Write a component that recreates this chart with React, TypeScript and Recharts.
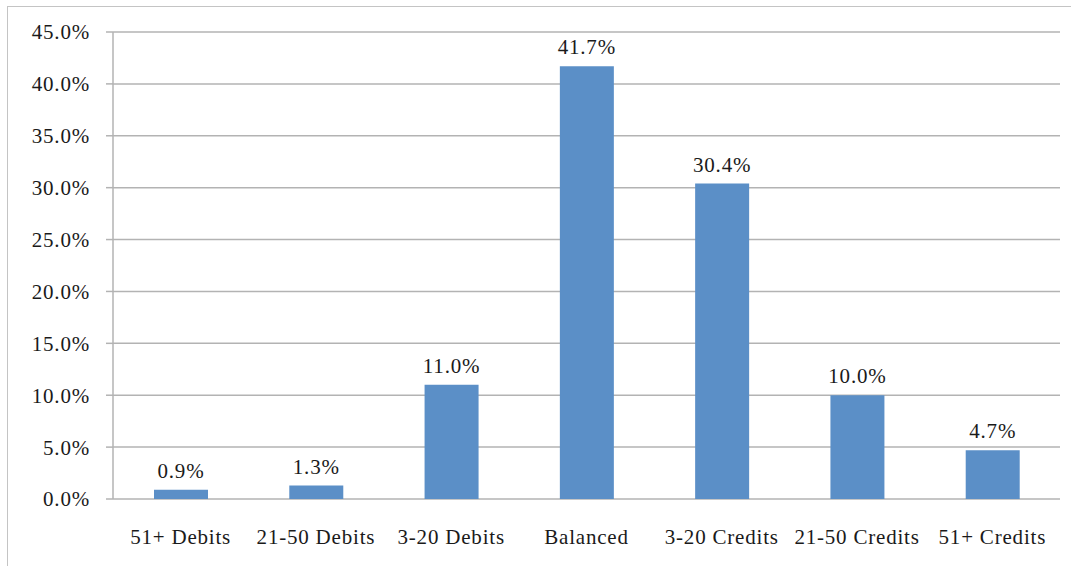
import React from "react";
import { BarChart, Bar, XAxis, YAxis, CartesianGrid, LabelList } from "recharts";

const categories = ["51+ Debits", "21-50 Debits", "3-20 Debits", "Balanced", "3-20 Credits", "21-50 Credits", "51+ Credits"];
const shares = [0.9, 1.3, 11.0, 41.7, 30.4, 10.0, 4.7];
const yTicks = [0, 5, 10, 15, 20, 25, 30, 35, 40, 45];
const boundaryTicks = [0, 1, 2, 3, 4, 5, 6, 7];

const data = categories.map((c, i) => ({ name: c, value: shares[i] }));

const FONT = "'Liberation Serif', 'Times New Roman', serif";
const GRID = "#b3b3b3";
const TEXT = "#1a1a1a";
const textStyle = { fill: TEXT, fontSize: 21, fontFamily: FONT, letterSpacing: 0.8 };

export default function App() {
  return (
    <div style={{ position: "absolute", left: 0, top: 0, width: 1071, height: 566, overflow: "hidden", background: "#fff" }}>
      <div style={{ position: "absolute", left: 7, top: 6, width: 1100, height: 600, border: "1.5px solid #c4c4c4" }} />
      <div style={{ position: "absolute", left: 0, top: 0 }}>
        <BarChart width={1071} height={566} data={data} margin={{ top: 32, right: 11, bottom: 0, left: 0 }}>
          <CartesianGrid horizontal vertical={false} stroke={GRID} strokeWidth={1.5} />
          <XAxis
            xAxisId="edge"
            type="number"
            domain={[0, 7]}
            ticks={boundaryTicks}
            allowDataOverflow
            height={0}
            axisLine={{ stroke: GRID, strokeWidth: 1.5 }}
            tickLine={{ stroke: GRID, strokeWidth: 1.5 }}
            tickSize={7}
            tickFormatter={() => ""}
          />
          <XAxis
            xAxisId="cat"
            dataKey="name"
            height={67}
            axisLine={false}
            tickLine={false}
            tickSize={0}
            tickMargin={30}
            interval={0}
            tick={textStyle}
          />
          <YAxis
            width={113}
            domain={[0, 45]}
            ticks={yTicks}
            interval={0}
            axisLine={{ stroke: GRID, strokeWidth: 1.5 }}
            tickLine={{ stroke: GRID, strokeWidth: 1.5 }}
            tickSize={7}
            tickMargin={16}
            tickFormatter={(v: number) => v.toFixed(1) + "%"}
            tick={textStyle}
          />
          <Bar xAxisId="cat" dataKey="value" fill="#5b8fc7" barSize={54} isAnimationActive={false}>
            <LabelList
              dataKey="value"
              position="top"
              offset={12}
              formatter={(v: number) => v.toFixed(1) + "%"}
              style={textStyle}
            />
          </Bar>
        </BarChart>
      </div>
    </div>
  );
}
